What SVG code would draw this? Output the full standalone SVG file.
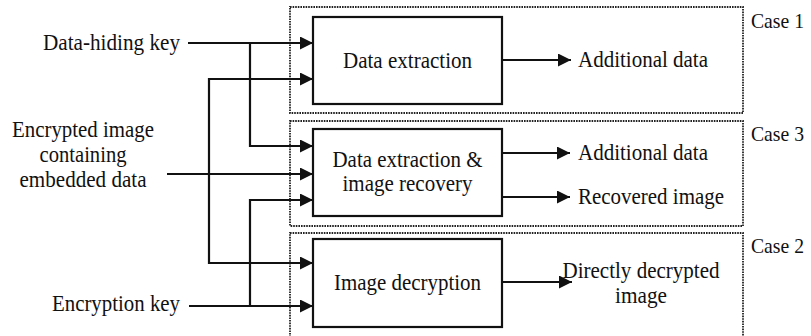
<svg xmlns="http://www.w3.org/2000/svg" width="811" height="336" viewBox="0 0 811 336" font-family="'Liberation Serif', 'Times New Roman', 'DejaVu Serif', serif">
  <style>
    text { font-family: "Liberation Serif", "Times New Roman", "DejaVu Serif", serif; font-size: 23px; fill: #111; }
    .mid { text-anchor: middle; }
    .end { text-anchor: end; }
    .case-label { font-size: 22px; }
    .box { fill: #fff; stroke: #111; stroke-width: 2.2; }
    .case { fill: none; stroke: #222; stroke-width: 1.8; stroke-dasharray: 1.6 1; }
    .arr { fill: none; stroke: #111; stroke-width: 2.2; marker-end: url(#ah); }
  </style>
  <defs>
    <marker id="ah" markerUnits="userSpaceOnUse" markerWidth="13" markerHeight="13" refX="13" refY="6.5" orient="auto">
      <path d="M0,0 L13,6.5 L0,13 z" fill="#111"/>
    </marker>
  </defs>

  <g id="case-regions">
    <rect id="case1-region" class="case" x="290" y="7" width="453" height="106"/>
    <rect id="case3-region" class="case" x="290" y="121" width="453" height="105"/>
    <rect id="case2-region" class="case" x="290" y="233" width="453" height="110"/>
    <text class="case-label" x="751" y="28" textLength="53" lengthAdjust="spacingAndGlyphs">Case 1</text>
    <text class="case-label" x="751" y="141" textLength="53" lengthAdjust="spacingAndGlyphs">Case 3</text>
    <text class="case-label" x="751" y="253" textLength="53" lengthAdjust="spacingAndGlyphs">Case 2</text>
  </g>

  <g id="connectors">
    <line class="arr" x1="188" y1="43" x2="313" y2="43"/>
    <polyline class="arr" points="250,43 250,146 313,146"/>
    <line class="arr" x1="167" y1="174" x2="313" y2="174"/>
    <polyline class="arr" points="209,174 209,79 313,79"/>
    <polyline class="arr" points="209,174 209,263 313,263"/>
    <line class="arr" x1="189" y1="306" x2="313" y2="306"/>
    <polyline class="arr" points="250,306 250,200 313,200"/>
    <line class="arr" x1="502" y1="60" x2="571" y2="60"/>
    <line class="arr" x1="502" y1="153" x2="570" y2="153"/>
    <line class="arr" x1="502" y1="197" x2="570" y2="197"/>
    <line class="arr" x1="502" y1="282" x2="572" y2="282"/>
  </g>

  <g id="input-data-hiding-key">
    <text class="end" x="180" y="50" textLength="137" lengthAdjust="spacingAndGlyphs">Data-hiding key</text>
  </g>
  <g id="input-encrypted-image">
    <text class="mid" x="83" y="137" textLength="142" lengthAdjust="spacingAndGlyphs">Encrypted image</text>
    <text class="mid" x="83" y="162" textLength="87" lengthAdjust="spacingAndGlyphs">containing</text>
    <text class="mid" x="83" y="187" textLength="127" lengthAdjust="spacingAndGlyphs">embedded data</text>
  </g>
  <g id="input-encryption-key">
    <text class="end" x="180" y="311" textLength="128" lengthAdjust="spacingAndGlyphs">Encryption key</text>
  </g>

  <g id="node-data-extraction">
    <rect class="box" x="313" y="17" width="189" height="87"/>
    <text class="mid" x="407.5" y="68" textLength="129" lengthAdjust="spacingAndGlyphs">Data extraction</text>
  </g>
  <g id="node-extraction-recovery">
    <rect class="box" x="313" y="129" width="189" height="87"/>
    <text class="mid" x="407.5" y="167" textLength="150" lengthAdjust="spacingAndGlyphs">Data extraction &amp;</text>
    <text class="mid" x="407.5" y="191" textLength="130" lengthAdjust="spacingAndGlyphs">image recovery</text>
  </g>
  <g id="node-image-decryption">
    <rect class="box" x="313" y="239" width="189" height="88"/>
    <text class="mid" x="407.5" y="290" textLength="147" lengthAdjust="spacingAndGlyphs">Image decryption</text>
  </g>

  <g id="output-additional-data-1">
    <text x="578" y="67" textLength="130" lengthAdjust="spacingAndGlyphs">Additional data</text>
  </g>
  <g id="output-additional-data-3">
    <text x="578" y="160" textLength="130" lengthAdjust="spacingAndGlyphs">Additional data</text>
  </g>
  <g id="output-recovered-image">
    <text x="578" y="204" textLength="146" lengthAdjust="spacingAndGlyphs">Recovered image</text>
  </g>
  <g id="output-directly-decrypted">
    <text class="mid" x="641" y="278" textLength="157" lengthAdjust="spacingAndGlyphs">Directly decrypted</text>
    <text class="mid" x="641" y="303" textLength="52" lengthAdjust="spacingAndGlyphs">image</text>
  </g>
</svg>
